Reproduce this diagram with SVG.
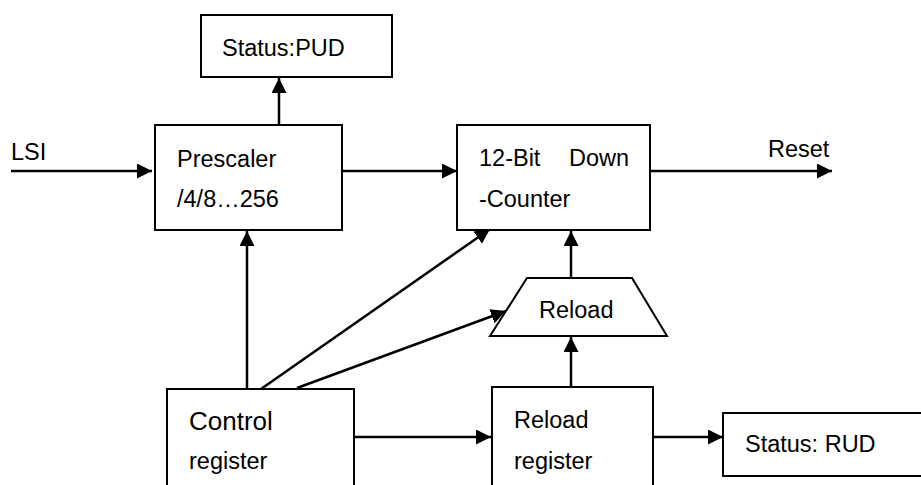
<svg xmlns="http://www.w3.org/2000/svg" width="921" height="485" viewBox="0 0 921 485">
<style>
.box{fill:#fff;stroke:#000;stroke-width:2}
.t{font-family:"Liberation Sans",Arial,sans-serif;font-size:23.5px;fill:#000}
.c{stroke:#000;stroke-width:2.5;fill:none;marker-end:url(#ah)}
</style>
<defs>
<marker id="ah" markerUnits="userSpaceOnUse" markerWidth="16" markerHeight="16" refX="15" refY="7.5" orient="auto">
<path d="M0,0 L15,7.5 L0,15 z" fill="#000"/>
</marker>
</defs>
<rect width="921" height="485" fill="#fff"/>
<g id="connectors">
<line class="c" x1="11" y1="171" x2="152" y2="171"/>
<line class="c" x1="342" y1="171" x2="457" y2="171"/>
<line class="c" x1="650" y1="171" x2="832" y2="171"/>
<line class="c" x1="279" y1="125" x2="279" y2="78"/>
<line class="c" x1="247" y1="389" x2="247" y2="231"/>
<line class="c" x1="261" y1="389" x2="490" y2="229"/>
<line class="c" x1="297" y1="388" x2="506" y2="311"/>
<line class="c" x1="571" y1="278" x2="571" y2="231"/>
<line class="c" x1="571" y1="387" x2="571" y2="337"/>
<line class="c" x1="354" y1="437" x2="491" y2="437"/>
<line class="c" x1="653" y1="437" x2="723" y2="437"/>
</g>
<g id="lsi"><text class="t" x="11" y="160">LSI</text></g>
<g id="reset"><text class="t" x="768" y="157">Reset</text></g>
<g id="status-pud">
<rect class="box" x="201" y="15" width="191" height="62"/>
<text class="t" x="222" y="56">Status:PUD</text>
</g>
<g id="prescaler">
<rect class="box" x="155" y="125" width="187" height="105"/>
<text class="t" x="177" y="167">Prescaler</text>
<text class="t" x="177" y="207">/4/8…256</text>
</g>
<g id="counter">
<rect class="box" x="457" y="125" width="193" height="105"/>
<text class="t" x="479" y="166">12-Bit<tspan x="569">Down</tspan></text>
<text class="t" x="479" y="207">-Counter</text>
</g>
<g id="reload">
<polygon class="box" points="527,278 632,278 667,336 490,336"/>
<text class="t" x="539" y="318">Reload</text>
</g>
<g id="control-register">
<rect class="box" x="167" y="389" width="187" height="110"/>
<text class="t" x="189" y="430" style="font-size:26px">Control</text>
<text class="t" x="189" y="469">register</text>
</g>
<g id="reload-register">
<rect class="box" x="492" y="387" width="161" height="110"/>
<text class="t" x="514" y="428">Reload</text>
<text class="t" x="514" y="469">register</text>
</g>
<g id="status-rud">
<rect class="box" x="723" y="413" width="210" height="63"/>
<text class="t" x="745" y="452">Status: RUD</text>
</g>
</svg>
